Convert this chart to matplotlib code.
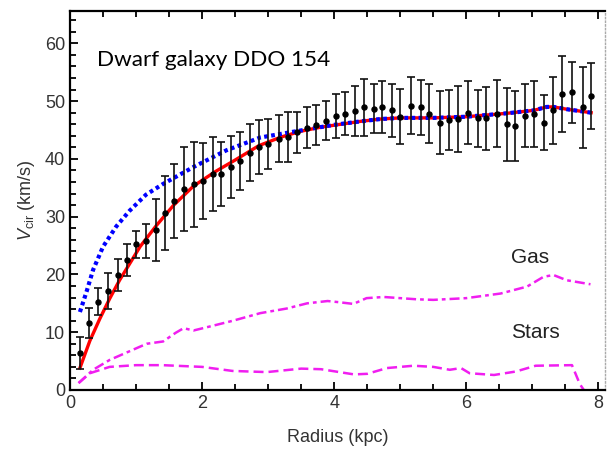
import numpy as np
import matplotlib
matplotlib.use("Agg")
import matplotlib.pyplot as plt
from matplotlib.ticker import MultipleLocator

plt.rcParams['font.family'] = ['Liberation Sans', 'DejaVu Sans']
plt.rcParams['mathtext.fontset'] = 'custom'
plt.rcParams['mathtext.rm'] = 'Liberation Sans'
plt.rcParams['mathtext.it'] = 'Liberation Sans:italic'

# observed rotation curve (kpc, km/s)
r_obs = [0.15, 0.29, 0.43, 0.57, 0.72, 0.86, 1.00, 1.15, 1.30, 1.44, 1.58, 1.73, 1.87, 2.01,
         2.16, 2.29, 2.44, 2.58, 2.72, 2.86, 3.00, 3.16, 3.30, 3.43, 3.59, 3.73, 3.87, 4.02,
         4.17, 4.32, 4.45, 4.60, 4.72, 4.87, 5.00, 5.16, 5.31, 5.44, 5.60, 5.74, 5.87, 6.03,
         6.18, 6.30, 6.46, 6.62, 6.74, 6.89, 7.02, 7.17, 7.32, 7.45, 7.60, 7.77, 7.89]
v_obs = [6.4, 11.6, 15.3, 17.1, 19.9, 22.5, 25.2, 25.8, 27.7, 30.6, 32.7, 34.8, 35.6, 36.2,
         37.4, 37.4, 38.6, 39.7, 41.1, 42.1, 42.6, 43.5, 43.8, 44.6, 45.4, 45.9, 46.6, 47.5,
         47.8, 48.3, 48.9, 48.7, 48.9, 48.4, 47.3, 49.2, 48.9, 47.8, 46.3, 46.7, 46.9, 48.0,
         47.0, 47.0, 47.8, 46.0, 45.7, 47.5, 47.8, 46.3, 48.4, 51.2, 51.5, 48.9, 50.9]
v_err = [2.7, 2.6, 2.3, 3.1, 2.7, 2.7, 2.4, 3.0, 5.4, 6.4, 6.4, 7.3, 7.4, 6.6,
         6.4, 5.6, 5.3, 5.0, 4.9, 4.7, 4.3, 4.1, 4.3, 3.6, 3.5, 3.5, 3.4, 3.8,
         3.7, 4.4, 4.9, 4.3, 4.5, 4.6, 4.8, 4.9, 4.8, 5.1, 5.4, 5.2, 5.7, 5.4,
         4.9, 5.5, 5.8, 6.3, 6.1, 5.5, 5.7, 4.8, 5.8, 6.6, 5.2, 7.0, 5.7]

# model fit (red)
r_fit = [0.15, 0.3, 0.45, 0.6, 0.75, 0.9, 1.06, 1.31, 1.57, 1.87, 2.2, 2.5, 2.86, 3.2, 3.5,
         3.8, 4.1, 4.4, 4.7, 5.0, 5.5, 6.0, 6.62, 7.02, 7.22, 7.32, 7.52, 7.89]
v_fit = [3.8, 8.5, 12.3, 15.8, 19.0, 21.8, 24.8, 28.5, 32.0, 35.3, 37.8, 39.8, 42.3, 43.8, 44.8,
         45.5, 46.0, 46.5, 46.9, 47.1, 47.1, 47.3, 47.9, 48.4, 49.0, 49.0, 48.6, 48.0]

# alternative model (blue)
r_alt = [0.15, 0.25, 0.35, 0.5, 0.7, 0.9, 1.15, 1.4, 1.87, 2.37, 2.88, 3.38, 4.0, 4.4, 4.7,
         5.0, 5.5, 6.0, 6.62, 7.02, 7.22, 7.32, 7.52, 7.89]
v_alt = [13.5, 17.0, 20.8, 24.8, 28.3, 31.0, 33.8, 35.6, 38.6, 41.5, 43.7, 44.7, 45.9, 46.5, 46.9,
         47.1, 47.1, 47.3, 47.9, 48.4, 49.0, 49.0, 48.6, 48.0]

# gas contribution
r_gas = [0.13, 0.35, 0.6, 0.86, 1.16, 1.41, 1.6, 1.72, 1.87, 2.12, 2.47, 2.88, 3.28, 3.59, 3.9,
         4.07, 4.29, 4.49, 4.75, 5.25, 5.5, 6.0, 6.52, 6.92, 7.17, 7.32, 7.52, 7.88]
v_gas = [1.2, 3.5, 5.2, 6.5, 8.0, 8.4, 9.9, 10.7, 10.3, 11.0, 12.0, 13.3, 14.1, 15.0, 15.4,
         15.2, 14.9, 15.9, 16.1, 15.7, 15.6, 15.9, 16.7, 17.9, 19.6, 19.9, 19.0, 18.3]

# stellar contribution
r_star = [0.13, 0.3, 0.6, 1.0, 1.4, 2.0, 2.46, 2.98, 3.5, 3.8, 4.3, 4.5, 4.8, 5.2, 5.5, 5.75,
          5.92, 6.05, 6.42, 6.75, 7.05, 7.6, 7.72, 7.78]
v_star = [1.2, 2.9, 4.0, 4.3, 4.3, 4.0, 3.3, 3.1, 3.7, 3.6, 2.7, 2.8, 3.8, 4.2, 4.0, 3.5,
          3.8, 2.9, 2.6, 3.2, 4.2, 4.3, 1.0, 0.0]

fig = plt.figure(figsize=(6.07, 4.5), dpi=100)
ax = fig.add_axes([70 / 607, 60 / 450, 535 / 607, 379 / 450])

mag = '#f01ef0'
ax.plot(r_gas, v_gas, color=mag, lw=1.8, dashes=(4, 1.6, 1.5, 1.6))
ax.plot(r_star, v_star, color=mag, lw=1.8, dashes=(4, 2))
ax.plot(r_fit, v_fit, color='red', lw=2.4)
ax.plot(r_alt, v_alt, color='blue', lw=3.0, dashes=(0.9, 0.8), dash_capstyle='butt')
ax.errorbar(r_obs, v_obs, yerr=v_err, fmt='o', color='black', ms=3.6,
            elinewidth=1.2, capsize=2.6, capthick=1.2, ecolor='#111111')

ax.text(0.41, 57.1, 'Dwarf galaxy DDO 154', family=['Lato', 'DejaVu Sans'],
        fontsize=16.2, va='center', ha='left')
ax.text(6.97, 23.0, 'Gas', fontsize=15, ha='center', va='center', color='#222222')
ax.text(7.05, 9.9, 'Stars', fontsize=15, ha='center', va='center', color='#222222')

ax.set_xlim(0, 8.1)
ax.set_ylim(0, 65.6)
ax.xaxis.set_major_locator(MultipleLocator(2))
ax.xaxis.set_minor_locator(MultipleLocator(0.5))
ax.yaxis.set_major_locator(MultipleLocator(10))
ax.yaxis.set_minor_locator(MultipleLocator(2))
ax.tick_params(which='both', direction='in', top=True, right=True,
               labelsize=13, labelcolor='#333333', width=1.3)
ax.tick_params(which='major', length=6)
ax.tick_params(which='minor', length=4)
ax.tick_params(axis='y', which='both', right=False)

for s in ['left', 'bottom', 'top']:
    ax.spines[s].set_linewidth(1.6)
ax.spines['right'].set_linestyle(':')
ax.spines['right'].set_color('#aaaaaa')
ax.spines['right'].set_linewidth(1.0)

ax.set_xlabel('Radius (kpc)', fontsize=13, color='#333333', labelpad=12)
ax.set_ylabel(r'$V_{\mathrm{cir}}$ (km/s)', fontsize=13, color='#333333', labelpad=6)

plt.savefig("out.png", dpi=100)
